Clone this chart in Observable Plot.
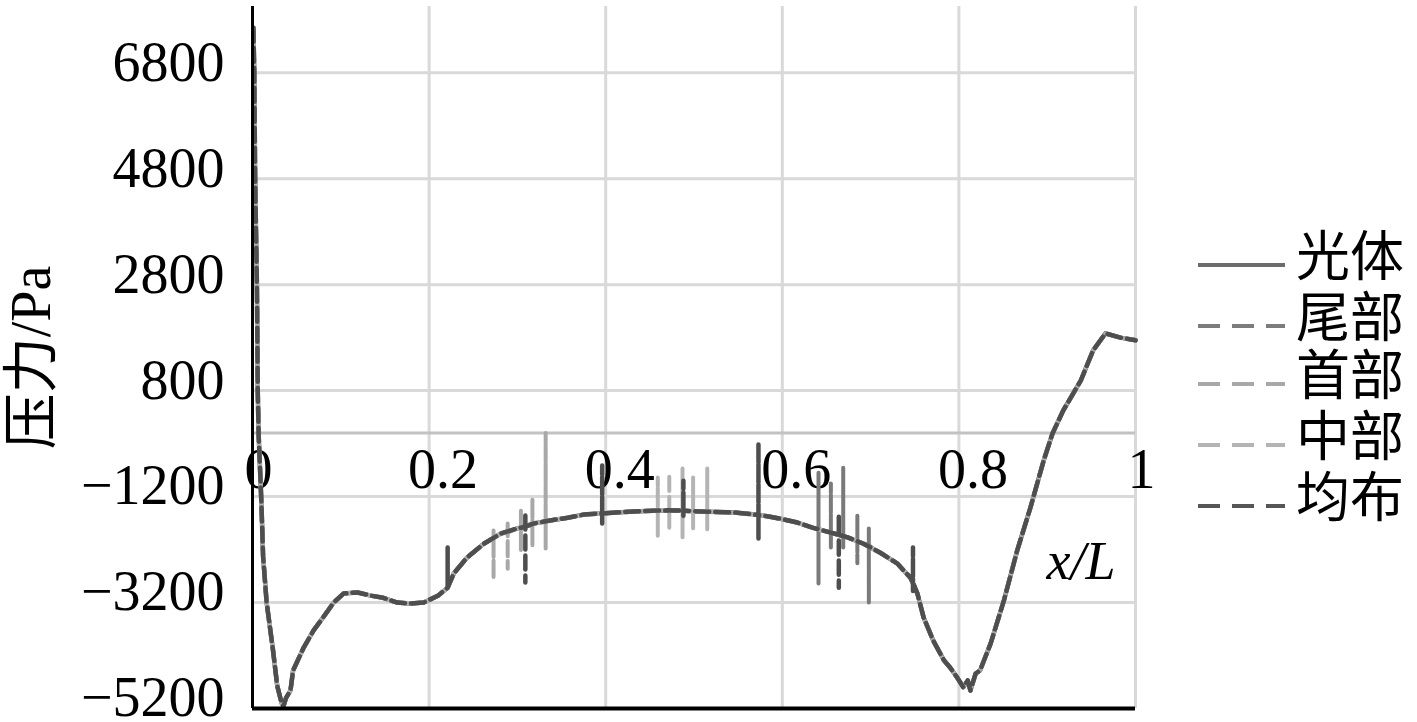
<!DOCTYPE html>
<html>
<head>
<meta charset="utf-8">
<script src="https://cdn.jsdelivr.net/npm/d3@7"></script>
<script src="https://cdn.jsdelivr.net/npm/@observablehq/plot@0.6"></script>
<style>
  html, body { margin: 0; padding: 0; background: #fff; }
  #wrap { position: relative; width: 1417px; height: 722px; overflow: hidden; }
  #legend { position: absolute; left: 1190px; top: 200px; }
  #legend svg { overflow: visible; }
</style>
</head>
<body>
<div id="wrap"><div id="chart"></div><div id="legend"></div></div>
<script>
// ---- data ----
const seriesNames = ["光体", "尾部", "首部", "中部", "均布"];
const seriesColors = ["#5e5e5e", "#7a7a7a", "#a8a8a8", "#b4b4b4", "#4e4e4e"];
const legendColors = ["#6c6c6c", "#7c7c7c", "#a8a8a8", "#b4b4b4", "#565656"];

const yTicks = [-5200, -3200, -1200, 800, 2800, 4800, 6800];
const xTicks = [0, 0.2, 0.4, 0.6, 0.8, 1];

// common pressure curve (x/L, Pa)
const xBase = [0.001,0.002,0.003,0.005,0.006,0.007,0.010,0.012,0.016,0.023,
  0.028,0.033,0.035,0.038,0.043,0.046,0.058,0.069,0.080,0.092,
  0.103,0.119,0.134,0.148,0.164,0.179,0.194,0.210,0.221,0.228,
  0.243,0.262,0.281,0.300,0.318,0.337,0.357,0.375,0.394,0.431,
  0.470,0.507,0.545,0.564,0.583,0.598,0.617,0.635,0.655,0.674,
  0.692,0.711,0.730,0.745,0.753,0.760,0.771,0.783,0.790,0.798,
  0.805,0.810,0.813,0.819,0.824,0.836,0.851,0.866,0.881,0.896,
  0.906,0.918,0.938,0.952,0.966,0.983,1.000];
const yBase = [7650,6800,4800,2780,745,-50,-1280,-2330,-3200,-4070,
  -4770,-5100,-5160,-5000,-4860,-4480,-4050,-3730,-3480,-3200,
  -3030,-3010,-3070,-3110,-3200,-3220,-3200,-3070,-2920,-2650,
  -2350,-2090,-1900,-1800,-1710,-1650,-1600,-1540,-1520,-1480,
  -1460,-1480,-1500,-1530,-1570,-1620,-1690,-1790,-1880,-1970,
  -2090,-2260,-2460,-2730,-3030,-3480,-3920,-4290,-4425,-4615,
  -4800,-4670,-4860,-4540,-4480,-3970,-3160,-2220,-1410,-520,
  -10,420,990,1560,1880,1800,1750];

// spikes per series: [x, curve value, spike top, spike bottom]
const spikesGuangti = [];
const spikesWeibu = [[0.641,-1820,-750,-2840],[0.655,-1880,-955,-2160],[0.669,-1960,-655,-2160],[0.685,-2050,-1560,-2460],[0.698,-2120,-1800,-3200]];
const spikesShoubu = [[0.273,-1970,-1840,-2750],[0.289,-1880,-1710,-2560],[0.304,-1800,-1460,-2220],[0.317,-1730,-1240,-2120],[0.332,-1670,0,-2180]];
const spikesZhongbu = [[0.459,-1460,-840,-1940],[0.472,-1460,-770,-1790],[0.487,-1465,-670,-1970],[0.499,-1470,-840,-1840],[0.515,-1485,-670,-1840]];
const spikesJunbu = [[0.221,-2920,-2160,-2920],[0.309,-1770,-1520,-2820],[0.396,-1520,-615,-1710],[0.488,-1465,-900,-1560],[0.573,-1550,-200,-1990],[0.664,-1920,-1560,-2920],[0.748,-2820,-2160,-2980]];

// ---- build series tables ----
function buildSeries(spikes) {
  const groups = xBase.map((x, i) => ({x, pts: [[x, yBase[i]]]}));
  for (const [x, b, t, btm] of spikes) {
    groups.push({x, pts: [[x, b], [x, t], [x, btm], [x, b]]});
  }
  groups.sort((a, b) => a.x - b.x);
  return groups.flatMap(g => g.pts.map(([x, y]) => ({x, y})));
}
const allSpikes = [spikesGuangti, spikesWeibu, spikesShoubu, spikesZhongbu, spikesJunbu];
const dashes = [null, "14,6", "14,6", "14,6", "14,6"];
const offsets = [0, 5, 10, 14, 0];
const widths = [4.5, 4, 4, 4, 4.5];

const serif = "'Liberation Serif', 'Times New Roman', serif";
const cjk = "'Liberation Serif', 'Noto Sans CJK SC', serif";
const fmt = d => d < 0 ? "\u2212" + Math.abs(d) : String(d);

const lineMarks = allSpikes.map((sp, i) => Plot.line(buildSeries(sp), {
  x: "x", y: "y",
  stroke: seriesColors[i],
  strokeWidth: widths[i],
  strokeDasharray: dashes[i] || undefined,
  strokeDashoffset: offsets[i],
  strokeLinejoin: "round"
}));

const chart = Plot.plot({
  width: 1417,
  height: 722,
  marginLeft: 252,
  marginRight: 282,
  marginTop: 6,
  marginBottom: 14,
  x: {domain: [0, 1], axis: null},
  y: {domain: [-5200, 8050], axis: null},
  style: {fontFamily: serif, background: "white", color: "#000", overflow: "visible"},
  marks: [
    Plot.gridY(yTicks.filter(d => d > -5200), {stroke: "#d9d9d9", strokeWidth: 3, strokeOpacity: 1}),
    Plot.gridX(xTicks.filter(d => d > 0), {stroke: "#d9d9d9", strokeWidth: 3, strokeOpacity: 1}),
    Plot.ruleY([0], {stroke: "#c2c2c2", strokeWidth: 3}),
    Plot.axisY(yTicks, {tickSize: 0, tickPadding: 28, fontSize: 56, dy: -10, tickFormat: fmt, label: null}),
    Plot.text(xTicks.filter(d => !Number.isInteger(d)), {x: d => d, y: () => 0, text: d => String(d), fontSize: 56, dx: 14, dy: 37, fill: "#000"}),
    Plot.text(xTicks.filter(d => Number.isInteger(d)), {x: d => d, y: () => 0, text: d => String(d), fontSize: 56, dx: 6, dy: 37, fill: "#000"}),
    ...lineMarks,
    Plot.ruleX([0], {stroke: "#000", strokeWidth: 3}),
    Plot.ruleY([-5200], {stroke: "#000", strokeWidth: 4}),
    Plot.text(["压力/Pa"], {frameAnchor: "left", textAnchor: "middle", dx: -220, rotate: -90, fontSize: 56, fontFamily: cjk, fill: "#000"}),
    Plot.text(["x/L"], {frameAnchor: "right", textAnchor: "end", dx: -20, dy: 204, fontSize: 54, fontStyle: "italic", fill: "#000"})
  ]
});
document.getElementById("chart").appendChild(chart);

// ---- legend ----
const rowY = [65, 126, 184, 245, 306];
const lg = d3.select("#legend").append("svg").attr("width", 227).attr("height", 340);
seriesNames.forEach((name, i) => {
  lg.append("line")
    .attr("x1", 8).attr("x2", 95).attr("y1", rowY[i]).attr("y2", rowY[i])
    .attr("stroke", legendColors[i]).attr("stroke-width", 4)
    .attr("stroke-dasharray", i === 0 ? null : "22,12");
  lg.append("text")
    .attr("x", 106).attr("y", rowY[i] + 11)
    .attr("font-size", 54).attr("font-family", "'Noto Sans CJK SC', sans-serif")
    .attr("fill", "#000")
    .text(name);
});
</script>
</body>
</html>
